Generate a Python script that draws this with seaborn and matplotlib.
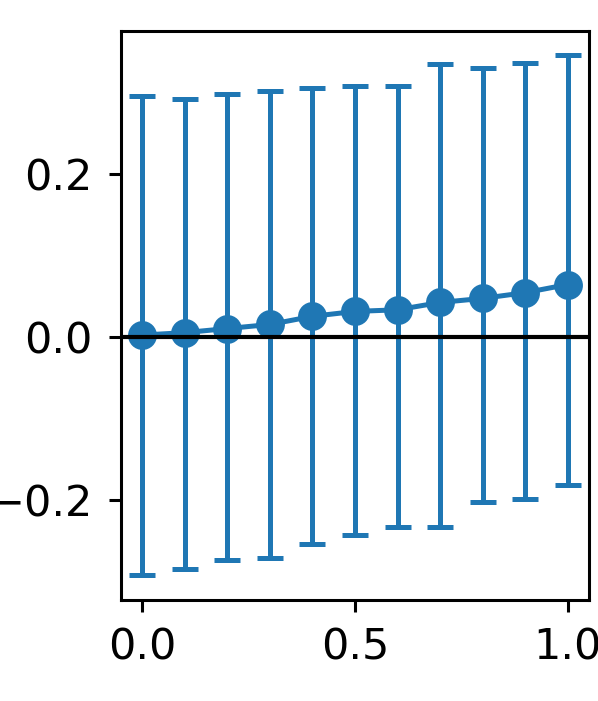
import numpy as np
import pandas as pd
import matplotlib
matplotlib.use("Agg")
import matplotlib.pyplot as plt
import seaborn as sns

# values
x_vals = [0.0, 0.1, 0.2, 0.3, 0.4, 0.5, 0.6, 0.7, 0.8, 0.9, 1.0]
mean_vals = [0.002, 0.005, 0.010, 0.015, 0.025, 0.031, 0.033, 0.042, 0.047, 0.054, 0.064]
upper_vals = [0.295, 0.292, 0.298, 0.301, 0.305, 0.308, 0.307, 0.335, 0.330, 0.336, 0.345]
lower_vals = [-0.292, -0.285, -0.274, -0.272, -0.254, -0.243, -0.234, -0.234, -0.203, -0.199, -0.182]

df = pd.DataFrame({'x': x_vals, 'mean': mean_vals, 'upper': upper_vals, 'lower': lower_vals})

sns.set_style('ticks')
plt.rcParams['font.family'] = ['DejaVu Sans']
plt.rcParams['axes.linewidth'] = 1.1
plt.rcParams['xtick.major.width'] = 1.1
plt.rcParams['ytick.major.width'] = 1.1
plt.rcParams['xtick.major.size'] = 4.3
plt.rcParams['ytick.major.size'] = 4.3

color = '#1f77b4'
fig = plt.figure(figsize=(2.99, 3.505), dpi=200)
ax = fig.add_axes([121 / 598, 101 / 701, 468 / 598, 569 / 701])

# reference line at zero
ax.axhline(0, color='black', lw=1.5, zorder=4)

err = [df['mean'] - df['lower'], df['upper'] - df['mean']]
ax.errorbar(df['x'], df['mean'], yerr=err, fmt='none', ecolor=color,
            elinewidth=1.8, capsize=4.7, capthick=1.8, zorder=2)
sns.lineplot(data=df, x='x', y='mean', ax=ax, color=color, marker='o',
             markersize=10.4, markeredgewidth=0, lw=1.8, zorder=3)

ax.set_xlim(-0.05, 1.05)
ax.set_ylim(-0.323, 0.375)
ax.set_xticks([0.0, 0.5, 1.0])
ax.set_yticks([-0.2, 0.0, 0.2])
ax.tick_params(labelsize=15.5, colors='black')
ax.tick_params(axis='x', pad=5.3)
ax.tick_params(axis='y', pad=6.0)
ax.set_xlabel('')
ax.set_ylabel('')
for s in ax.spines.values():
    s.set_color('black')

fig.savefig('out.png', dpi=200)
